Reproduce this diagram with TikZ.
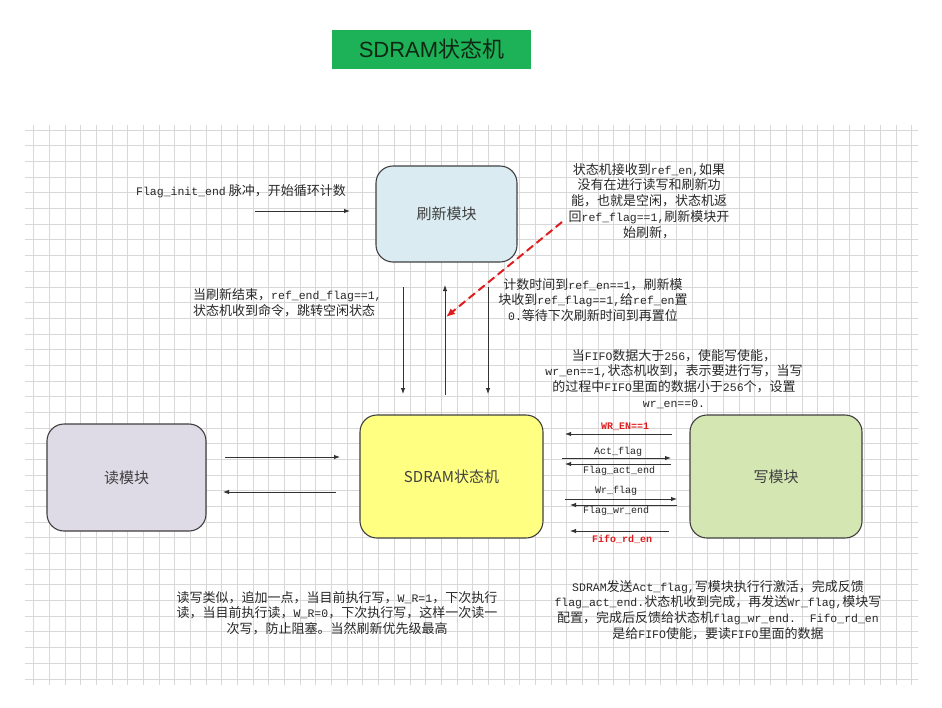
\documentclass[tikz,border=0pt]{standalone}
\usepackage{fontspec}
\setmainfont{Noto Sans CJK SC}
\newfontfamily\monof{Liberation Mono}
\newfontfamily\titlesans{Liberation Sans}
\usetikzlibrary{arrows.meta}
\definecolor{gridc}{RGB}{216,216,216}
\definecolor{titlegreen}{RGB}{30,178,88}
\definecolor{titletext}{RGB}{15,40,20}
\definecolor{refblue}{RGB}{218,236,242}
\definecolor{readlav}{RGB}{222,218,230}
\definecolor{sdyellow}{RGB}{255,255,130}
\definecolor{wrgreen}{RGB}{212,230,178}
\definecolor{txt}{RGB}{40,40,40}
\definecolor{redc}{RGB}{222,30,30}
\newcommand\mm[1]{{\fontsize{11.5}{16}\monof #1}}
\tikzset{
  boxst/.style={draw=black!75, line width=1.1pt, rounded corners=17pt, text=black!75,
    font=\fontsize{15}{18}\selectfont, inner sep=0pt},
  note/.style={text=txt, font=\fontsize{13}{15.8}\selectfont, align=center, inner sep=0pt},
  lab/.style={text=txt, font=\fontsize{10}{11}\monof, inner sep=0pt},
  redlab/.style={text=redc, font=\fontsize{10}{11}\monof\bfseries, inner sep=0pt},
  arr/.style={-{Latex[length=6pt,width=4.5pt]}, line width=0.9pt, draw=black!80},
}
\begin{document}
\begin{tikzpicture}[x=1pt,y=-1pt]
\useasboundingbox[fill=white] (0,0) rectangle (942,707);
% grid
\begin{scope}
\clip (25,125) rectangle (918,684);
\foreach \i in {0,...,57} { \draw[gridc, line width=0.6pt] (33.5+15.68*\i,120) -- (33.5+15.68*\i,690); }
\foreach \j in {-1,...,36} { \draw[gridc, line width=0.6pt] (20,130+15.68*\j) -- (925,130+15.68*\j); }
\end{scope}
% title
\node[fill=titlegreen, minimum width=199pt, minimum height=39pt, inner sep=0pt,
  text=titletext, font=\fontsize{22}{26}\selectfont] (title) at (431.5,49.5) {{\titlesans SDRAM}状态机};
% boxes
\node[boxst, fill=refblue, minimum width=141pt, minimum height=96pt] (ref) at (446.5,214) {刷新模块};
\node[boxst, fill=readlav, minimum width=159pt, minimum height=107pt] (rd) at (126.5,477.5) {读模块};
\node[boxst, fill=sdyellow, minimum width=183pt, minimum height=123pt] (sd) at (451.5,476.5) {SDRAM状态机};
\node[boxst, fill=wrgreen, minimum width=172pt, minimum height=123pt] (wr) at (776,476.5) {写模块};
% notes
\node[note] (n1) at (241,191) {\mm{Flag\_init\_end} 脉冲，开始循环计数};
\node[note] (n2) at (649,201) {状态机接收到\mm{ref\_en,}如果\\没有在进行读写和刷新功\\能，也就是空闲，状态机返\\回\mm{ref\_flag==1,}刷新模块开\\始刷新，};
\node[note, align=left, anchor=west] (n3) at (193,303) {当刷新结束，\mm{ref\_end\_flag==1,}\\状态机收到命令，跳转空闲状态};
\node[note] (n4) at (593,300) {计数时间到\mm{ref\_en==1}，刷新模\\块收到\mm{ref\_flag==1,}给\mm{ref\_en}置\\\mm{0.}等待下次刷新时间到再置位};
\node[note] (n5) at (674,379) {当\mm{FIFO}数据大于\mm{256}，使能写使能，\\\mm{wr\_en==1,}状态机收到，表示要进行写，当写\\的过程中\mm{FIFO}里面的数据小于\mm{256}个，设置\\\mm{wr\_en==0.}};
\node[note] (n6) at (337,613) {读写类似，追加一点，当目前执行写，\mm{W\_R=1}，下次执行\\读，当目前执行读，\mm{W\_R=0}，下次执行写，这样一次读一\\次写，防止阻塞。当然刷新优先级最高};
\node[note] (n7) at (718,610) {\mm{SDRAM}发送\mm{Act\_flag,}写模块执行行激活，完成反馈\\\mm{flag\_act\_end.}状态机收到完成，再发送\mm{Wr\_flag,}模块写\\配置，完成后反馈给状态机\mm{flag\_wr\_end.\ \ Fifo\_rd\_en}\\是给\mm{FIFO}使能，要读\mm{FIFO}里面的数据};
% coordinates for free arrows
\coordinate (i1) at (255,211); \coordinate (i2) at (350,211);
\coordinate (v1a) at (403,287); \coordinate (v1b) at (403,394);
\coordinate (v2a) at (445,395); \coordinate (v2b) at (445,285);
\coordinate (v3a) at (488,287); \coordinate (v3b) at (488,394);
\coordinate (ra) at (562,222); \coordinate (rb) at (446,317);
\coordinate (r1a) at (225,457); \coordinate (r1b) at (340,457);
\coordinate (r2a) at (336,492); \coordinate (r2b) at (223,492);
\coordinate (w1a) at (672,434); \coordinate (w1b) at (565,434);
\coordinate (w2a) at (562,458); \coordinate (w2b) at (671,458);
\coordinate (w3a) at (671,464); \coordinate (w3b) at (565,464);
\coordinate (w4a) at (565,499); \coordinate (w4b) at (677,499);
\coordinate (w5a) at (677,505); \coordinate (w5b) at (570,505);
\coordinate (w6a) at (669,531); \coordinate (w6b) at (570,531);
% arrows
\draw[arr] (i1) -- (i2);
\draw[arr] (v1a) -- (v1b);
\draw[arr] (v2a) -- (v2b);
\draw[arr] (v3a) -- (v3b);
\draw[-{Latex[length=9pt,width=7.5pt]}, draw=redc, fill=redc, line width=2pt, dash pattern=on 8pt off 4.5pt] (ra) -- (rb);
\draw[arr] (r1a) -- (r1b);
\draw[arr] (r2a) -- (r2b);
\draw[arr] (w1a) -- (w1b);
\draw[arr] (w2a) -- (w2b);
\draw[arr] (w3a) -- (w3b);
\draw[arr] (w4a) -- (w4b);
\draw[arr] (w5a) -- (w5b);
\draw[arr] (w6a) -- (w6b);
% arrow labels
\node[redlab] (l1) at (625,427) {WR\_EN==1};
\node[lab] (l2) at (618,452) {Act\_flag};
\node[lab] (l3) at (619,471) {Flag\_act\_end};
\node[lab] (l4) at (616,491) {Wr\_flag};
\node[lab] (l5) at (616,511) {Flag\_wr\_end};
\node[redlab] (l6) at (622,539) {Fifo\_rd\_en};
\end{tikzpicture}
\end{document}
